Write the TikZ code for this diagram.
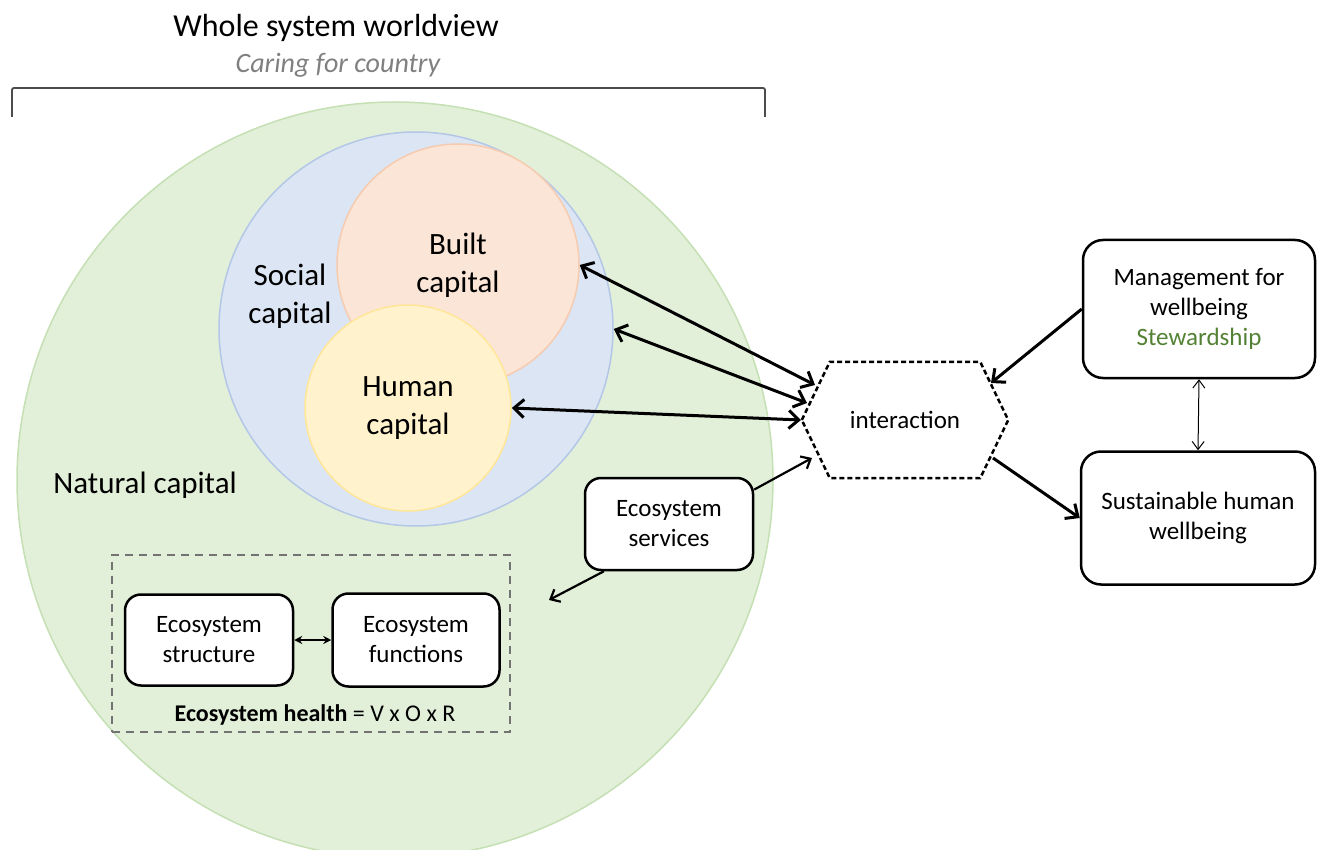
\documentclass[tikz,border=0pt]{standalone}
\usepackage{fontspec}
\setmainfont{Carlito}
\usetikzlibrary{arrows.meta}
\definecolor{natfill}{RGB}{226,239,217}
\definecolor{natline}{RGB}{197,224,180}
\definecolor{socfill}{RGB}{219,229,243}
\definecolor{socline}{RGB}{180,199,231}
\definecolor{bltfill}{RGB}{251,229,214}
\definecolor{bltline}{RGB}{246,203,175}
\definecolor{humfill}{RGB}{255,242,204}
\definecolor{humline}{RGB}{255,230,153}
\definecolor{stew}{RGB}{84,130,53}

\begin{document}
\begin{tikzpicture}[x=1pt,y=-1pt,>={Straight Barb[length=10pt,width=18pt]},
  capital/.style={circle,inner sep=0pt,line width=1.5pt,align=center,font=\fontsize{31}{38}\selectfont},
  box/.style={draw,rounded corners=16pt,line width=2.5pt,fill=white,align=center,font=\fontsize{25}{30}\selectfont},
  link/.style={line width=3pt},
  slink/.style={line width=2.2pt,-{Straight Barb[length=8pt,width=14pt]}}]
  \useasboundingbox (0,0) rectangle (1317,850);
  \clip (0,0) rectangle (1317,850);
  \node[capital,minimum size=756pt,fill=natfill,draw=natline] at (395,480) (nat) {};
  \node[capital,minimum size=394pt,fill=socfill,draw=socline] at (416,329) (soc) {};
  \node[capital,minimum size=242pt,fill=bltfill,draw=bltline] at (458,265) (blt) {Built\\capital};
  \node[capital,minimum size=206pt,fill=humfill,draw=humline] at (408,408) (hum) {Human\\capital};
  \node[capital] at (290,296) (soclab) {Social\\capital};
  \node[capital] at (145,485) (natlab) {Natural capital};

  \node[font=\fontsize{32}{38}\selectfont] at (336,28) (title) {Whole system worldview};
  \node[font=\fontsize{28}{34}\selectfont\itshape,text=black!50] at (338,65) (sub) {Caring for country};
  \draw[line width=1.8pt,draw=black!70,rounded corners=2pt] (12,117) -- (12,88) -- (765,88) -- (765,117);

  \node[draw=black!55,dash pattern=on 8pt off 6pt,line width=2pt,minimum width=398pt,minimum height=177pt] at (311,643) (hbox) {};
  \node[font=\fontsize{24}{29}\selectfont] at (315,715) (hlab) {\textbf{Ecosystem health} = V x O x R};
  \node[box,minimum width=168pt,minimum height=91pt] at (209,640) (struc) {Ecosystem\\structure};
  \node[box,minimum width=167pt,minimum height=93pt] at (416,640) (func) {Ecosystem\\functions};
  \draw[line width=1.5pt,{Stealth[length=8pt,width=8pt]}-{Stealth[length=8pt,width=8pt]}] (struc) -- (func);

  \node[box,minimum width=168pt,minimum height=92pt] at (669,524) (serv) {Ecosystem\\services};
  \node[box,rounded corners=20pt,minimum width=232pt,minimum height=138pt] at (1199,309) (mgmt) {Management for\\wellbeing\\\textcolor{stew}{Stewardship}};
  \node[box,rounded corners=20pt,minimum width=234pt,minimum height=133pt] at (1198,518) (sust) {Sustainable human\\wellbeing};

  \node[minimum width=206pt,minimum height=116pt,font=\fontsize{25}{30}\selectfont] at (905,420) (inter) {interaction};
  \draw[line width=2.5pt,dash pattern=on 5pt off 3pt] (inter.west) -- ([xshift=28pt]inter.north west) -- ([xshift=-28pt]inter.north east)
    -- (inter.east) -- ([xshift=-28pt]inter.south east) -- ([xshift=28pt]inter.south west) -- cycle;

  \coordinate (i1) at (815,385);
  \coordinate (i2) at (807,403);
  \coordinate (i3) at (801,420);
  \coordinate (i4) at (812,458);
  \coordinate (m1) at (991,383);
  \coordinate (s1) at (993,458);
  \coordinate (eco) at (549,600);

  \draw[<->,link] (blt.east) -- (i1);
  \draw[<->,link] (soc.east) -- (i2);
  \draw[<->,link] (hum.east) -- (i3);
  \draw[slink] (serv.22) -- (i4);
  \draw[slink] (serv.216) -- (eco);
  \draw[->,link] (mgmt.west) -- (m1);
  \draw[->,link] (s1) -- (sust.west);
  \draw[line width=1pt,{Straight Barb[length=8pt,width=12pt]}-{Straight Barb[length=8pt,width=12pt]}] (mgmt.south) -- (sust.north);
\end{tikzpicture}
\end{document}
